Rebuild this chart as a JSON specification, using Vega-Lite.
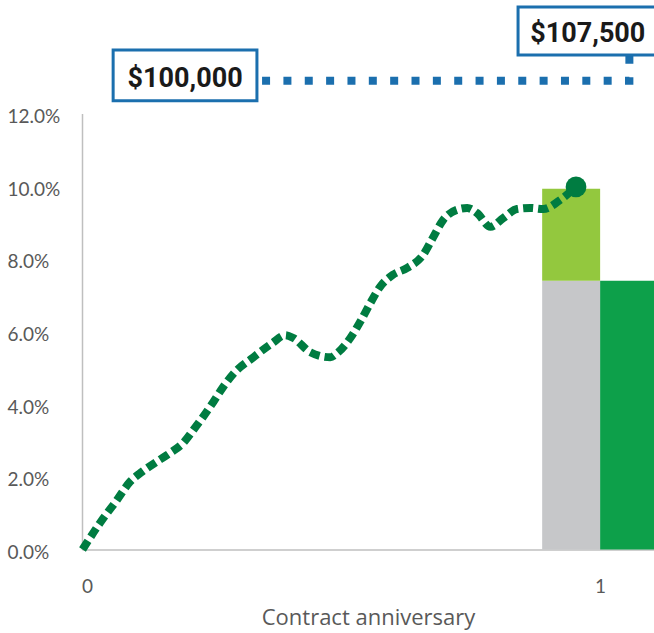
{
  "$schema": "https://vega.github.io/schema/vega-lite/v6.json",
  "width": 572,
  "height": 436,
  "autosize": {"type": "none"},
  "padding": {"left": 82, "top": 113.5, "right": 0, "bottom": 83.5},
  "background": "white",
  "config": {"view": {"stroke": null}, "font": "Lato"},
  "datasets": {
    "bars": [
      {"x": 0.887, "x2": 1.0, "y": 0, "y2": 7.4, "part": "base"},
      {"x": 0.887, "x2": 1.0, "y": 7.4, "y2": 9.93, "part": "gain"},
      {"x": 1.0, "x2": 1.105, "y": 0, "y2": 7.4, "part": "credited"}
    ],
    "curve": [
      {"x": -0.009, "y": 0.0},
      {"x": 0.025, "y": 0.73},
      {"x": 0.058, "y": 1.36},
      {"x": 0.084, "y": 1.87},
      {"x": 0.107, "y": 2.14},
      {"x": 0.136, "y": 2.42},
      {"x": 0.162, "y": 2.66},
      {"x": 0.187, "y": 2.93},
      {"x": 0.207, "y": 3.29},
      {"x": 0.226, "y": 3.65},
      {"x": 0.246, "y": 4.06},
      {"x": 0.265, "y": 4.47},
      {"x": 0.288, "y": 4.88},
      {"x": 0.324, "y": 5.29},
      {"x": 0.361, "y": 5.68},
      {"x": 0.386, "y": 5.9},
      {"x": 0.402, "y": 5.82},
      {"x": 0.435, "y": 5.43},
      {"x": 0.474, "y": 5.29},
      {"x": 0.487, "y": 5.4},
      {"x": 0.513, "y": 5.82},
      {"x": 0.532, "y": 6.26},
      {"x": 0.552, "y": 6.78},
      {"x": 0.571, "y": 7.23},
      {"x": 0.596, "y": 7.56},
      {"x": 0.624, "y": 7.75},
      {"x": 0.655, "y": 8.11},
      {"x": 0.674, "y": 8.58},
      {"x": 0.694, "y": 9.07},
      {"x": 0.721, "y": 9.35},
      {"x": 0.741, "y": 9.4},
      {"x": 0.76, "y": 9.26},
      {"x": 0.786, "y": 8.88},
      {"x": 0.811, "y": 9.12},
      {"x": 0.838, "y": 9.37},
      {"x": 0.864, "y": 9.4},
      {"x": 0.889, "y": 9.37},
      {"x": 0.922, "y": 9.62},
      {"x": 0.953, "y": 9.98}
    ],
    "dot": [{"x": 0.953, "y": 9.98}],
    "bluepath": [
      {"i": 1, "x": 0.341, "y": 12.9},
      {"i": 2, "x": 1.057, "y": 12.9},
      {"i": 3, "x": 1.057, "y": 13.61}
    ],
    "boxes": [
      {"x": 0.0507, "x2": 0.331, "y": 13.75, "y2": 12.35},
      {"x": 0.84, "x2": 1.2, "y": 14.93, "y2": 13.61}
    ],
    "labels": [
      {"x": 0.191, "y": 12.74, "text": "$100,000"},
      {"x": 0.976, "y": 13.98, "text": "$107,500"}
    ]
  },
  "encoding": {
    "x": {
      "field": "x",
      "type": "quantitative",
      "scale": {"domain": [-0.01, 1.105], "nice": false, "zero": false},
      "axis": {
        "values": [0, 1],
        "format": "d",
        "ticks": false,
        "grid": false,
        "domainColor": "#bfbfbf",
        "domainWidth": 1.5,
        "labelFont": "Lato",
        "labelFontSize": 19,
        "labelColor": "#595959",
        "labelPadding": 28,
        "title": "Contract anniversary",
        "titleFont": "Open Sans",
        "titleFontSize": 22,
        "titleFontWeight": "normal",
        "titleColor": "#595959",
        "titlePadding": 11
      }
    },
    "y": {
      "field": "y",
      "type": "quantitative",
      "scale": {"domain": [0, 12], "nice": false, "zero": true},
      "axis": {
        "values": [0, 2, 4, 6, 8, 10, 12],
        "labelExpr": "format(datum.value, '.1f') + '%'",
        "ticks": false,
        "grid": false,
        "domainColor": "#bfbfbf",
        "domainWidth": 1.5,
        "labelFont": "Lato",
        "labelFontSize": 19,
        "labelColor": "#595959",
        "labelAlign": "left",
        "labelPadding": 75,
        "labelOffset": 3,
        "title": null
      }
    }
  },
  "layer": [
    {
      "data": {"name": "bars"},
      "mark": {"type": "rect"},
      "encoding": {
        "x2": {"field": "x2"},
        "y2": {"field": "y2"},
        "color": {
          "field": "part",
          "type": "nominal",
          "scale": {"domain": ["base", "gain", "credited"], "range": ["#c6c7c9", "#93c83e", "#0da04a"]},
          "legend": null
        }
      }
    },
    {
      "data": {"name": "curve"},
      "mark": {"type": "line", "interpolate": "monotone", "color": "#007c41", "strokeWidth": 8, "strokeDash": [10, 5], "strokeCap": "butt"},
      "encoding": {}
    },
    {
      "data": {"name": "dot"},
      "mark": {"type": "circle", "color": "#007c41", "opacity": 1, "size": 430},
      "encoding": {}
    },
    {
      "data": {"name": "bluepath"},
      "mark": {"type": "line", "color": "#1b6fae", "strokeWidth": 8, "strokeDash": [8, 13.35], "strokeCap": "butt"},
      "encoding": {"order": {"field": "i", "type": "quantitative"}}
    },
    {
      "data": {"name": "boxes"},
      "mark": {"type": "rect", "fill": "white", "stroke": "#1b6fae", "strokeWidth": 3},
      "encoding": {"x2": {"field": "x2"}, "y2": {"field": "y2"}}
    },
    {
      "data": {"name": "labels"},
      "mark": {"type": "text", "font": "Roboto", "fontWeight": "bold", "fontSize": 27, "color": "#1a1a1a", "align": "center", "baseline": "alphabetic"},
      "encoding": {"text": {"field": "text", "type": "nominal"}}
    }
  ]
}
